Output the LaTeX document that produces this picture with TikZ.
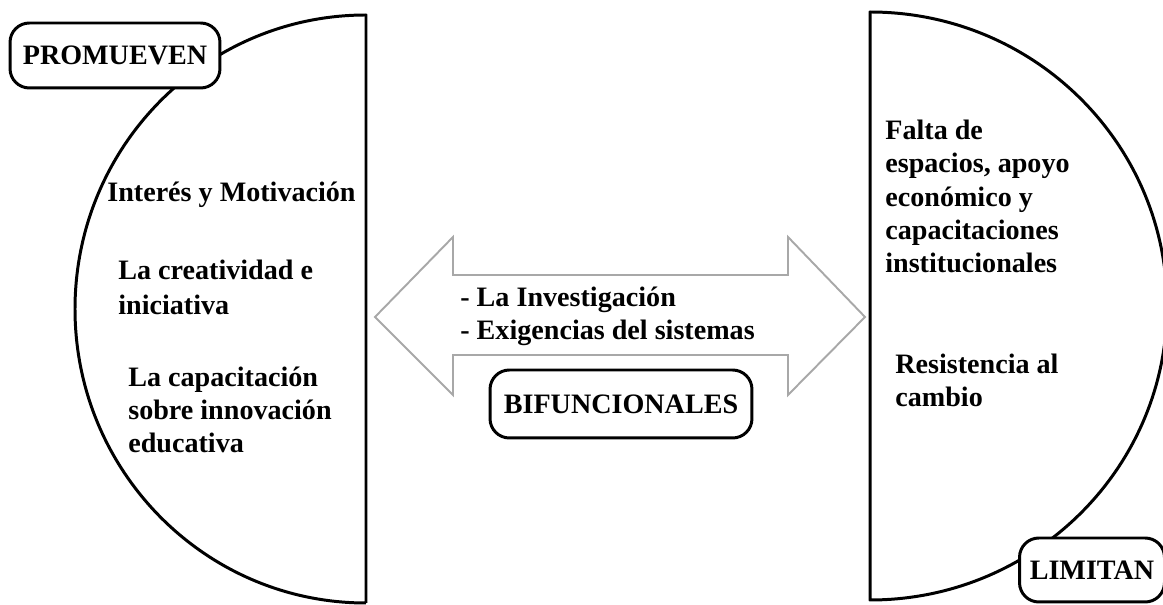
\documentclass[tikz,border=0pt]{standalone}
\usepackage{fontspec}
\setmainfont{Liberation Serif}
\usepackage{tikz}
\usetikzlibrary{calc}
\definecolor{arrowgray}{HTML}{A8A8A8}

\begin{document}
\begin{tikzpicture}[x=0.02cm, y=0.02cm,
    halfdisc/.style={line width=1.7pt, line join=round},
    tag/.style={draw, line width=1.7pt, rounded corners=11pt, fill=white,
      font=\bfseries\fontsize{16}{19}\selectfont, inner sep=0pt},
    item/.style={anchor=base west, inner sep=0pt, align=left,
      font=\bfseries\fontsize{16}{19}\selectfont}]

  \useasboundingbox (0,0) rectangle (1163,605);

  % Half discs
  \draw[halfdisc] (366,2) -- (366,590)
    arc[start angle=90, end angle=270, x radius=291, y radius=294];
  \draw[halfdisc] (870,593)
    arc[start angle=90, end angle=-90, x radius=297, y radius=294] -- cycle;

  % Double arrow
  \draw[arrowgray, line width=1.1pt, line join=miter]
    (375,288) -- (453,368) -- (453,330) -- (788,330) -- (788,368)
    -- (865,288) -- (788,210) -- (788,250) -- (453,250) -- (453,210) -- cycle;

  % Tags
  \node[tag, minimum width=4.2cm, minimum height=1.3cm] (promueven) at (115,549.5) {PROMUEVEN};
  \node[tag, minimum width=5.24cm, minimum height=1.36cm] (bifuncionales) at (621,201) {BIFUNCIONALES};
  \node[tag, minimum width=2.9cm, minimum height=1.28cm] (limitan) at (1092,35) {LIMITAN};

  % Left items (anchored at the last line)
  \node[item] (interes) at (107,403) {Interés y Motivación};
  \node[item, font=\bfseries\fontsize{16}{20}\selectfont] (creatividad) at (118,290) {La creatividad e\\iniciativa};
  \node[item] (capacitacion) at (128,152) {La capacitación\\sobre innovación\\educativa};

  % Arrow items
  \node[item] (investigacion) at (460,265) {- La Investigación\\- Exigencias del sistemas};

  % Right items
  \node[item] (falta) at (885,332) {Falta de\\espacios, apoyo\\económico y\\capacitaciones\\institucionales};
  \node[item] (resistencia) at (895,198) {Resistencia al\\cambio};

\end{tikzpicture}
\end{document}
